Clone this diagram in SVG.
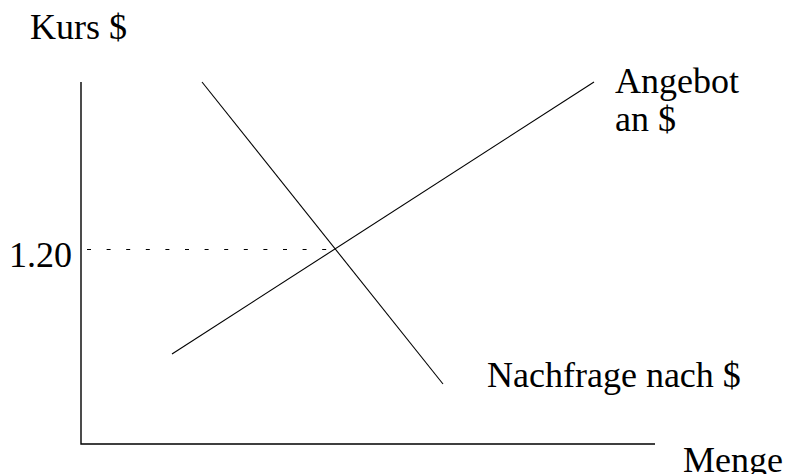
<svg xmlns="http://www.w3.org/2000/svg" width="788" height="474" viewBox="0 0 788 474">
<style>
text{font-family:"Liberation Serif","Times New Roman",serif;font-size:36px;fill:#000}
.ax{stroke:#000;stroke-width:1.4;fill:none}
.ln{stroke:#000;stroke-width:1.1;fill:none}
.dash{stroke:#000;stroke-width:1;stroke-dasharray:4 15.6}
</style>
<rect width="788" height="474" fill="#fff"/>
<g id="axes">
<path class="ax" d="M81,82 V444 H655"/>
<text id="y-label" x="30" y="39">Kurs $</text>
<text id="x-label" x="683" y="472">Menge</text>
<text id="price" x="9" y="267">1.20</text>
</g>
<g id="connectors">
<line class="ln" x1="202" y1="82" x2="443" y2="384"/>
<line class="ln" x1="172" y1="354" x2="594" y2="82"/>
<line class="dash" x1="87" y1="249.5" x2="335" y2="249.5"/>
</g>
<g id="supply-label"><text x="615" y="93">Angebot</text><text x="615" y="131">an $</text></g>
<g id="demand-label"><text x="487" y="387">Nachfrage nach $</text></g>
</svg>
